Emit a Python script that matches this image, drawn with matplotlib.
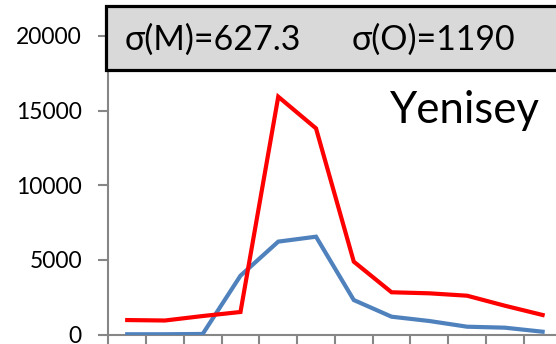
import matplotlib
matplotlib.use("Agg")
import matplotlib.pyplot as plt
from matplotlib.patches import Rectangle

months = list(range(1, 13))
model = [30, 30, 50, 3950, 6230, 6560, 2320, 1205, 917, 535, 470, 200]
observed = [980, 950, 1250, 1520, 15930, 13810, 4890, 2840, 2770, 2610, 1940, 1320]
yticks = [0, 5000, 10000, 15000, 20000]
title = "Yenisey"
sig_m = "σ(M)=627.3"
sig_o = "σ(O)=1190"

FONT = ["Lato", "DejaVu Sans"]
plt.rcParams["font.family"] = FONT

W, H = 556, 344
fig = plt.figure(figsize=(W / 100, H / 100), dpi=100)
ax = fig.add_axes([108.3 / W, (H - 334.7) / H, 453.2 / W, 298.8 / H])

x = list(range(len(months)))
ax.plot(x, model, color="#4F81BD", lw=3.0, solid_joinstyle="miter", zorder=3)
ax.plot(x, observed, color="#FF0000", lw=3.0, solid_joinstyle="miter", zorder=4)

ax.set_xlim(-0.5, len(months) - 0.5)
ax.set_ylim(0, 20000)
ax.set_xticks([i - 0.5 for i in range(len(months) + 1)])
ax.set_xticklabels([])
ax.set_yticks(yticks)
ax.set_yticklabels([str(v) for v in yticks], fontsize=16.5)
for s in ["top", "right"]:
    ax.spines[s].set_visible(False)
for s in ["left", "bottom"]:
    ax.spines[s].set_color("#868686")
    ax.spines[s].set_linewidth(1.5)
ax.tick_params(axis="both", colors="#868686", width=1.5, length=7, labelcolor="black")
ax.tick_params(axis="y", pad=12)

# label box
rect = Rectangle((105.7 / W, (H - 70) / H), 1.0, 64.2 / H, transform=fig.transFigure,
                 facecolor="#D9D9D9", edgecolor="black", linewidth=2.3, zorder=10)
fig.patches.append(rect)
fig.text(125 / W, (H - 40) / H, sig_m, fontsize=24.5, va="center", ha="left", zorder=11)
fig.text(352 / W, (H - 40) / H, sig_o, fontsize=24.5, va="center", ha="left", zorder=11)
fig.text(390 / W, (H - 123.3) / H, title, fontsize=31.5, va="baseline", ha="left")

fig.savefig("out.png", dpi=100)
